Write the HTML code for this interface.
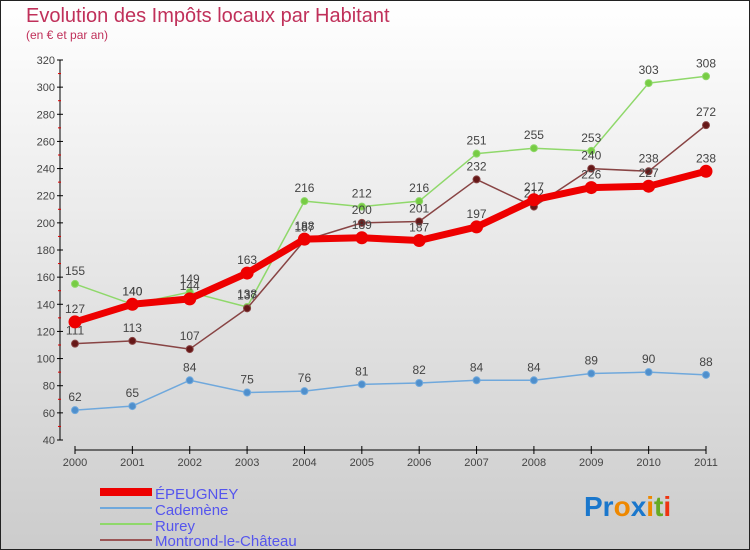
<!DOCTYPE html>
<html><head><meta charset="utf-8"><style>
body{margin:0}
svg{display:block;font-family:"Liberation Sans",sans-serif}
</style></head><body>
<svg width="750" height="550" xmlns="http://www.w3.org/2000/svg">
<defs><linearGradient id="bg" x1="0" y1="0" x2="0" y2="1"><stop offset="0" stop-color="#ffffff"/><stop offset="1" stop-color="#cccccc"/></linearGradient></defs>
<rect x="0.5" y="0.5" width="749" height="549" fill="url(#bg)" stroke="#222"/>
<text x="26" y="22" font-size="20" fill="#c0305a">Evolution des Impôts locaux par Habitant</text>
<text x="26" y="39" font-size="12" fill="#c0305a">(en € et par an)</text>
<g id="axes"></g>
<g id="series"></g>
<g font-size="15" fill="#5555ee">
<rect x="100" y="488" width="52" height="8" fill="#ee0000"/>
<text x="155" y="499">ÉPEUGNEY</text>
<rect x="100" y="507" width="52" height="2" fill="#6fa8dc"/>
<text x="155" y="515">Cademène</text>
<rect x="100" y="523" width="52" height="2" fill="#8fd86a"/>
<text x="155" y="531">Rurey</text>
<rect x="100" y="539" width="52" height="2" fill="#9b5555"/>
<text x="155" y="546">Montrond-le-Château</text>
</g>
<g font-size="28" font-weight="bold">
<text x="584" y="516"><tspan fill="#1a77cc">Pr</tspan><tspan fill="#ee8800">o</tspan><tspan fill="#1a77cc">x</tspan><tspan fill="#ee8800">i</tspan><tspan fill="#66aa22">t</tspan><tspan fill="#ee3311">i</tspan></text>
</g>
</svg>
<script>
const years=[2000,2001,2002,2003,2004,2005,2006,2007,2008,2009,2010,2011];
const epeugney=[127,140,144,163,188,189,187,197,217,226,227,238];
const cademene=[62,65,84,75,76,81,82,84,84,89,90,88];
const rurey=[155,140,149,138,216,212,216,251,255,253,303,308];
const montrond=[111,113,107,137,187,200,201,232,212,240,238,272];
const yTicks=[40,60,80,100,120,140,160,180,200,220,240,260,280,300,320];
const NS="http://www.w3.org/2000/svg";
function X(i){return 75+i*(706-75)/11;}
function Y(v){return 440-(v-40)*380/280;}
function mk(t,a,p){const e=document.createElementNS(NS,t);for(const k in a)e.setAttribute(k,a[k]);p.appendChild(e);return e;}
const ax=document.getElementById('axes');
const ya=mk('line',{x1:60,y1:60,x2:60,y2:440,stroke:'#000'},ax);


yTicks.forEach((v,i)=>{
 mk('line',{x1:57,y1:Y(v),x2:63,y2:Y(v),stroke:'#000'},ax);
 if(i<yTicks.length-1)mk('line',{x1:58,y1:Y(v+10),x2:61,y2:Y(v+10),stroke:'#d00'},ax);
 const t=mk('text',{x:55,y:Y(v)+4,'text-anchor':'end','font-size':11,fill:'#444'},ax);
 t.textContent=v;
 
 
});
const xa=mk('line',{x1:75,y1:450,x2:706,y2:450,stroke:'#000'},ax);


years.forEach((y,i)=>{
 mk('line',{x1:X(i),y1:446,x2:X(i),y2:454,stroke:'#000'},ax);
 const t=mk('text',{x:X(i),y:466,'text-anchor':'middle','font-size':11,fill:'#444'},ax);
 t.textContent=y;
 
 
});
const sg=document.getElementById('series');
function draw(name,data,color,w,r,dot){
 const g=mk('g',{},sg);
 
 
 const pl=mk('polyline',{points:data.map((v,i)=>X(i)+','+Y(v)).join(' '),fill:'none',stroke:color,'stroke-width':w,'stroke-linejoin':'round'},g);
 
 
 data.forEach((v,i)=>{
  const c=mk('circle',{cx:X(i),cy:Y(v),r:r,fill:dot,stroke:color,'stroke-width':1},g);
  
  
  const t=mk('text',{x:X(i),y:Y(v)-9,'text-anchor':'middle','font-size':12,fill:'#444'},g);
  t.textContent=v;
  
  
 });
}
draw('cademene',cademene,'#6fa8dc',1.5,3.5,'#4f8fcc');
draw('rurey',rurey,'#8fd86a',1.5,3.5,'#77cc44');
draw('montrond',montrond,'#884444',1.5,3.5,'#661818');
draw('epeugney',epeugney,'#ee0000',7,6,'#ee0000');
</script>
</body></html>
